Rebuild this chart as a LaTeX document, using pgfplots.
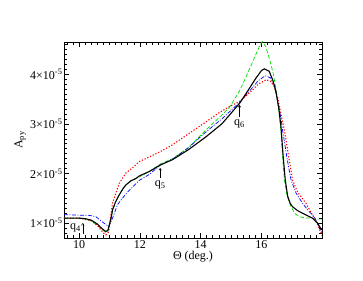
\documentclass[border=0pt]{standalone}
\usepackage{fontspec}
\setmainfont{Liberation Serif}
\usepackage{pgfplots}
\pgfplotsset{compat=1.18}
\usetikzlibrary{arrows.meta}
\definecolor{mygreen}{rgb}{0,0.88,0}
\begin{document}
\begin{tikzpicture}
\begin{axis}[
  at={(0,0)}, anchor=south west,
  scale only axis, width=258bp, height=196bp,
  xmin=9.5, xmax=18, ymin=0.7, ymax=4.65,
  font=\fontsize{12bp}{14bp}\selectfont,
  /pgf/number format/assume math mode=true,
  xtick={10,12,14,16}, xticklabels={10,12,14,16},
  minor xtick={9.6,9.8,10.2,10.4,10.6,10.8,11,11.2,11.4,11.6,11.8,12.2,12.4,12.6,12.8,13,13.2,13.4,13.6,13.8,14.2,14.4,14.6,14.8,15,15.2,15.4,15.6,15.8,16.2,16.4,16.6,16.8,17,17.2,17.4,17.6,17.8},
  ytick={1,2,3,4},
  yticklabels={1×10\textsuperscript{-5},2×10\textsuperscript{-5},3×10\textsuperscript{-5},4×10\textsuperscript{-5}},
  minor ytick={0.8,0.9,1.1,1.2,1.3,1.4,1.5,1.6,1.7,1.8,1.9,2.1,2.2,2.3,2.4,2.5,2.6,2.7,2.8,2.9,3.1,3.2,3.3,3.4,3.5,3.6,3.7,3.8,3.9,4.1,4.2,4.3,4.4,4.5,4.6},
  tick align=inside,
  major tick length=5bp, minor tick length=3bp,
  tick style={black, line width=0.5bp},
  axis line style={line width=0.7bp},
  yticklabel style={xshift=2bp},
  xticklabel style={yshift=1bp},
  xlabel={Θ (deg.)},
  ylabel={A\textsubscript{py}},
  every axis y label/.style={at={(axis description cs:-0.17,0.5)}, rotate=90, anchor=center},
  every axis x label/.style={at={(axis description cs:0.5,-0.095)}, anchor=center},
  clip=true,
]
% green dashed
\addplot[mygreen, line width=0.7bp, dash pattern=on 4bp off 2bp] coordinates {
(9.5,1.10) (10.0,1.10) (10.2,1.08) (10.4,1.04) (10.6,0.96) (10.75,0.87) (10.88,0.81) (10.95,0.84) (11.05,1.08) (11.1,1.25) (11.2,1.42) (11.32,1.57) (11.45,1.70) (11.54,1.77) (11.7,1.85) (11.87,1.90) (12.1,1.97) (12.31,2.04) (12.67,2.19) (13.08,2.30) (13.6,2.52) (14.18,2.88) (14.6,3.12) (14.95,3.33) (15.28,3.66) (15.5,3.95) (15.75,4.30) (15.95,4.58) (16.04,4.66) (16.15,4.55) (16.26,4.33) (16.38,4.05) (16.48,3.72) (16.57,3.30) (16.65,2.85) (16.7,2.35) (16.76,1.87) (16.85,1.55) (16.98,1.33) (17.1,1.20) (17.25,1.13) (17.4,1.11) (17.58,1.10) (17.8,1.08) (18.0,1.08)
};
% blue dash-dot
\addplot[blue, line width=0.7bp, dash pattern=on 4bp off 1.5bp on 1bp off 1.5bp] coordinates {
(9.5,1.17) (10.0,1.16) (10.3,1.16) (10.55,1.13) (10.75,1.03) (10.97,0.93) (11.1,1.10) (11.26,1.37) (11.54,1.59) (11.8,1.75) (11.98,1.86) (12.31,1.98) (12.67,2.17) (13.08,2.29) (13.6,2.52) (14.18,2.84) (14.7,3.10) (15.28,3.43) (15.6,3.65) (15.9,3.87) (16.13,3.97) (16.3,3.93) (16.42,3.79) (16.55,3.45) (16.65,3.10) (16.7,2.88) (16.85,2.30) (16.98,1.87) (17.15,1.60) (17.36,1.40) (17.55,1.25) (17.74,1.13) (17.9,0.95) (18.0,0.80)
};
% red dotted
\addplot[red, line width=1.1bp, dash pattern=on 1.2bp off 1.8bp] coordinates {
(9.5,1.10) (10.0,1.10) (10.4,1.05) (10.6,0.95) (10.8,0.80) (10.88,0.76) (10.97,0.82) (11.1,1.41) (11.32,1.80) (11.54,2.01) (11.75,2.11) (11.98,2.24) (12.3,2.33) (12.7,2.45) (13.08,2.58) (13.6,2.80) (14.18,3.04) (14.6,3.22) (14.95,3.35) (15.28,3.45) (15.6,3.62) (15.9,3.80) (16.16,3.89) (16.3,3.86) (16.42,3.76) (16.55,3.50) (16.65,3.19) (16.76,2.88) (16.9,2.35) (17.03,1.87) (17.2,1.62) (17.47,1.40) (17.7,1.15) (17.85,0.98) (18.0,0.75)
};
% black solid
\addplot[black, line width=1.1bp] coordinates {
(9.5,1.10) (9.8,1.10) (10.0,1.10) (10.2,1.09) (10.4,1.06) (10.6,0.98) (10.75,0.89) (10.88,0.83) (10.95,0.86) (11.05,1.10) (11.1,1.27) (11.2,1.43) (11.32,1.57) (11.45,1.70) (11.54,1.77) (11.7,1.85) (11.87,1.90) (11.98,1.95) (12.31,2.04) (12.67,2.17) (13.08,2.28) (13.6,2.48) (14.18,2.74) (14.7,3.00) (15.28,3.41) (15.55,3.66) (15.8,3.90) (16.0,4.07) (16.1,4.11) (16.26,4.06) (16.38,3.88) (16.48,3.66) (16.58,3.30) (16.65,2.93) (16.72,2.35) (16.79,1.87) (16.87,1.54) (16.95,1.40) (17.03,1.33) (17.2,1.25) (17.36,1.20) (17.55,1.14) (17.69,1.10) (17.85,1.00) (17.95,0.90) (18.0,0.86)
};
% annotations
\draw[-{To[length=2.5bp,width=3bp]}, line width=0.5bp] (axis cs:10.12,0.78) -- (axis cs:10.12,1.0);
\node[anchor=east, inner sep=0.5bp] at (axis cs:10.08,0.90) {q\textsubscript{4}};
\draw[-{To[length=2.5bp,width=3bp]}, line width=0.5bp] (axis cs:12.67,1.90) -- (axis cs:12.67,2.11);
\node[anchor=north, inner sep=0.5bp] at (axis cs:12.67,1.86) {q\textsubscript{5}};
\draw[-{To[length=2.5bp,width=3bp]}, line width=0.5bp] (axis cs:15.28,3.14) -- (axis cs:15.28,3.38);
\node[anchor=north, inner sep=0.5bp] at (axis cs:15.28,3.10) {q\textsubscript{6}};
\end{axis}
\path (-64bp,-43bp) rectangle (299bp,238bp);
\end{tikzpicture}
\end{document}
